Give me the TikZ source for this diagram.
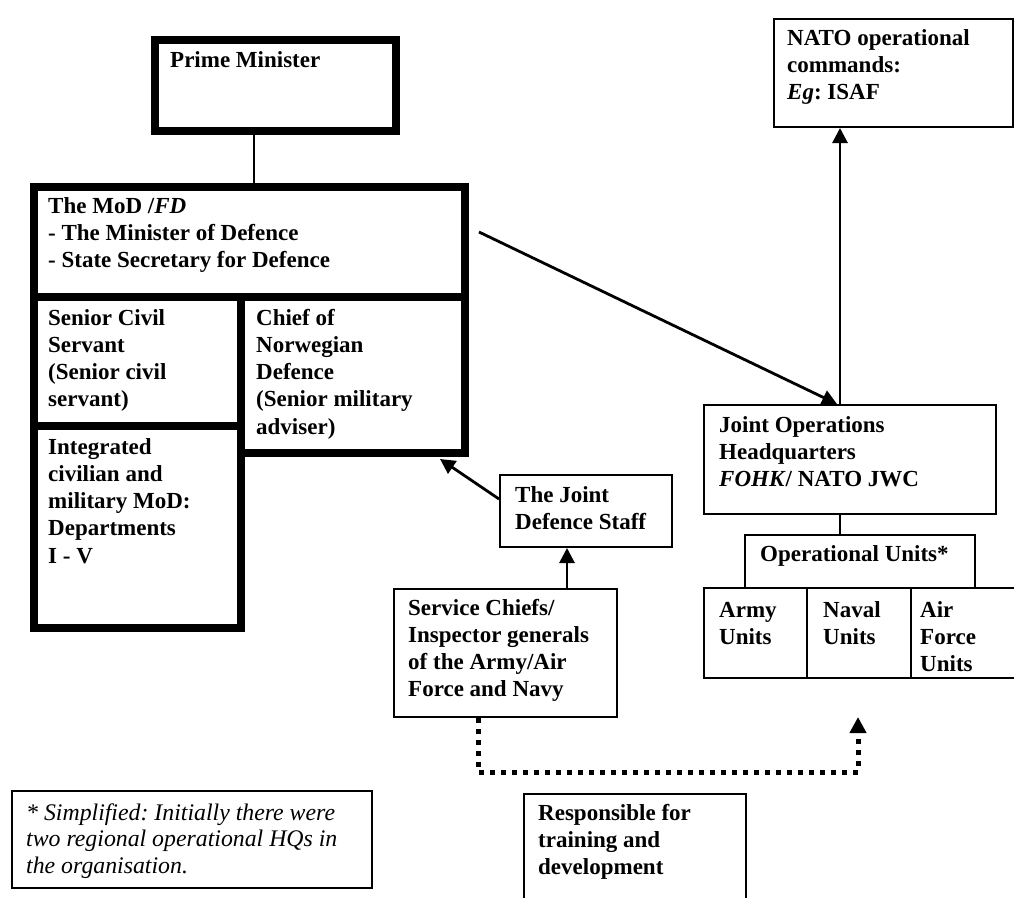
\documentclass[tikz,border=0pt]{standalone}
\usepackage{fontspec}
\setmainfont{Liberation Serif}
\usetikzlibrary{arrows.meta,calc}
\newcommand{\mylines}[1]{\begin{tabular}[t]{@{}l@{}}#1\end{tabular}}
\frenchspacing
\begin{document}
\begin{tikzpicture}[x=1pt,y=-1pt,
  thickbox/.style={draw, line width=8pt, inner sep=0pt, outer sep=4pt, anchor=north west},
  thinbox/.style={draw, line width=2pt, inner sep=0pt, outer sep=1pt, anchor=north west},
  lbl/.style={anchor=base west, inner sep=0pt, font=\fontsize{23}{27.3}\selectfont\bfseries},
  note/.style={anchor=base west, inner sep=0pt, font=\fontsize{23.8}{26.5}\selectfont\itshape},
  conn/.style={line width=2pt},
  arr/.style={line width=2.8pt, -{Triangle[length=15pt,width=15pt]}},
  dotarr/.style={line width=5pt, dash pattern=on 5pt off 6pt, -{Triangle[length=16pt,width=16pt]}}
]
\useasboundingbox (0,0) rectangle (1014,897);

% thick boxes
\node[thickbox, minimum width=241, minimum height=91] (pm) at (151,36) {};
\node[thickbox, minimum width=431, minimum height=110] (mod) at (30,183) {};
\node[thickbox, minimum width=207, minimum height=129] (civil) at (30,293) {};
\node[thickbox, minimum width=207, minimum height=202] (integ) at (30,422) {};
\node[thickbox, minimum width=224, minimum height=156] (chief) at (237,293) {};

% thin boxes
\node[thinbox, minimum width=239, minimum height=108] (nato) at (773,18) {};
\node[thinbox, minimum width=292, minimum height=109] (joh) at (703,404) {};
\node[thinbox, minimum width=230, minimum height=53] (ops) at (744,534) {};
\node[thinbox, minimum width=103, minimum height=90] (army) at (703,587) {};
\node[thinbox, minimum width=104, minimum height=90] (naval) at (806,587) {};
\node[thinbox, minimum width=110, minimum height=90] (air) at (910,587) {};
\node[thinbox, minimum width=172, minimum height=72] (jds) at (499,474) {};
\node[thinbox, minimum width=223, minimum height=128] (sc) at (393,588) {};
\node[thinbox, minimum width=360, minimum height=97] (fn) at (11,790) {};
\node[thinbox, minimum width=222, minimum height=120] (resp) at (523,793) {};

% texts
\node[lbl] (tpm) at (170,67) {Prime Minister};
\node[lbl] (tmod) at (48,213) {\mylines{The MoD /\textit{FD}\\- The Minister of Defence\\- State Secretary for Defence}};
\node[lbl] (tcivil) at (48,325) {\mylines{Senior Civil\\Servant\\(Senior civil\\servant)}};
\node[lbl] (tinteg) at (48,454) {\mylines{Integrated\\civilian and\\military MoD:\\Departments\\I - V}};
\node[lbl] (tchief) at (256,325) {\mylines{Chief of\\Norwegian\\Defence\\(Senior military\\adviser)}};
\node[lbl] (tnato) at (787,45) {\mylines{NATO operational\\commands:\\\textit{Eg}: ISAF}};
\node[lbl] (tjoh) at (719,432) {\mylines{Joint Operations\\Headquarters\\\textit{FOHK}/ NATO JWC}};
\node[lbl] (tops) at (760,561) {Operational Units*};
\node[lbl] (tarmy) at (719,617) {\mylines{Army\\Units}};
\node[lbl] (tnaval) at (823,617) {\mylines{Naval\\Units}};
\node[lbl] (tair) at (920,617) {\mylines{Air\\Force\\Units}};
\node[lbl] (tjds) at (515,502) {\mylines{The Joint\\Defence Staff}};
\node[lbl] (tsc) at (408,615) {\mylines{Service Chiefs/\\Inspector generals\\of the Army/Air\\Force and Navy}};
\node[note] (tfn) at (26,820) {\mylines{* Simplified: Initially there were\\two regional operational HQs in\\the organisation.}};
\node[lbl] (tresp) at (538,820) {\mylines{Responsible for\\training and\\development}};

% connectors
\coordinate (pmx) at (254,0);
\coordinate (jx) at (840,0);
\coordinate (sx) at (567,0);
\coordinate (dx) at (478,0);
\coordinate (dc1) at (478,772);
\coordinate (dc2) at (858,772);
\coordinate (dend) at (858,717);
\draw[conn] (pm.south -| pmx) -- (mod.north -| pmx);
\draw[arr] ($(mod.north east)+(10,49)$) -- ($(joh.north west)+(134,0)$);
\draw[arr] (joh.north -| jx) -- (nato.south -| jx);
\draw[conn] (joh.south -| jx) -- (ops.north -| jx);
\draw[arr] ($(jds.north west)+(0,25)$) -- ($(chief.south east)+(-29,2)$);
\draw[arr] (sc.north -| sx) -- (jds.south -| sx);
\draw[dotarr] (sc.south -| dx) -- (dc1) -- (dc2) -- (dend);
\end{tikzpicture}
\end{document}
